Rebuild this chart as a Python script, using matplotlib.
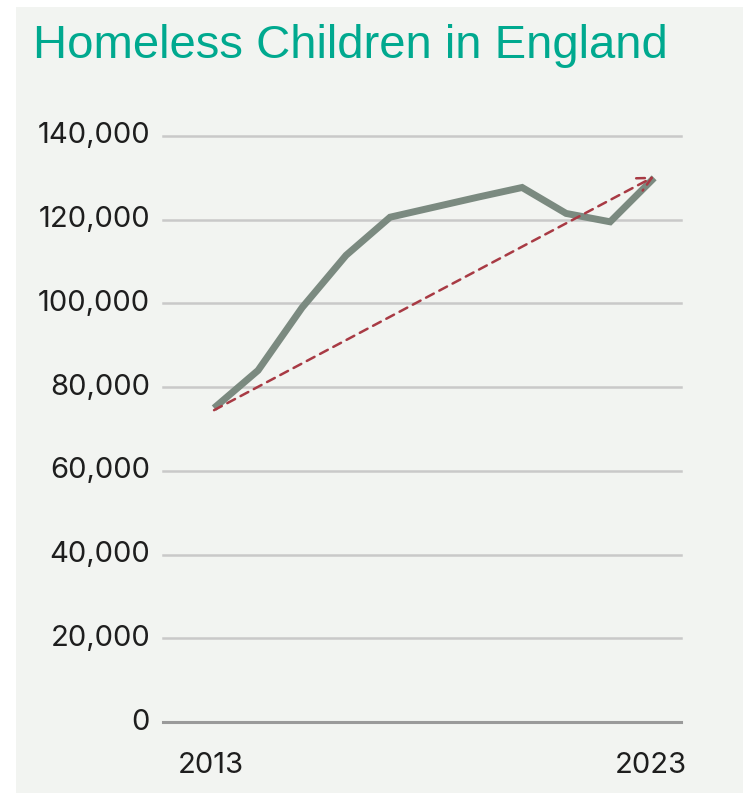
import matplotlib.pyplot as plt
from matplotlib.patches import FancyArrowPatch

# Data
years = [2013, 2014, 2015, 2016, 2017, 2018, 2019, 2020, 2021, 2022, 2023]
children = [75000, 84000, 99000, 111500, 120600, 123000, 125400, 127700, 121500, 119500, 130000]
trend_start = (2013, 74500)
trend_end = (2023, 130300)
y_ticks = [0, 20000, 40000, 60000, 80000, 100000, 120000, 140000]
x_labels = [2013, 2023]

W, H = 745, 793
fig = plt.figure(figsize=(W / 100, H / 100), dpi=100)
fig.patch.set_facecolor('white')

# light panel behind everything
bg = fig.add_axes([16 / W, 0, (743 - 16) / W, (H - 7) / H], zorder=-1)
bg.set_facecolor('#f2f4f1')
bg.set_xticks([])
bg.set_yticks([])
for s in bg.spines.values():
    s.set_visible(False)

ax = fig.add_axes([163 / W, (H - 722) / H, (681 - 163) / W, (722 - 136) / H], zorder=1)
ax.set_facecolor('none')
ax.set_xlim(2011.84, 2023.61)
ax.set_ylim(0, 140000)

for t in y_ticks:
    if t == 0:
        ax.axhline(t, color='#9a9a9a', lw=2.2, zorder=1, clip_on=False)
    else:
        ax.axhline(t, color='#c9c9c9', lw=1.8, zorder=1, clip_on=False)
    ax.text(-0.025, t, f'{t:,}', transform=ax.get_yaxis_transform(),
            ha='right', va='center', fontsize=21, color='#1e1e1e',
            family='Inter', fontweight='normal')

for yr in x_labels:
    ax.text(yr - 0.07, -0.075, str(yr), transform=ax.get_xaxis_transform(),
            ha='center', va='center', fontsize=21, color='#1e1e1e',
            family='Inter', fontweight='normal')

ax.plot(years, children, color='#7b8a80', lw=5, solid_capstyle='butt',
        solid_joinstyle='miter', zorder=3, clip_on=False)

arrow = FancyArrowPatch(trend_start, trend_end, arrowstyle='->,head_length=10,head_width=5',
                        linestyle=(0, (3.5, 2.5)), color='#a83a44', lw=1.8,
                        shrinkA=0, shrinkB=0, zorder=4, clip_on=False)
ax.add_patch(arrow)

for s in ax.spines.values():
    s.set_visible(False)
ax.set_xticks([])
ax.set_yticks([])

fig.text(33 / W, 1 - 46 / H, 'Homeless Children in England', ha='left', va='center',
         fontsize=34, color='#00a98f', family='Liberation Sans')

fig.savefig('out.png', dpi=100)
